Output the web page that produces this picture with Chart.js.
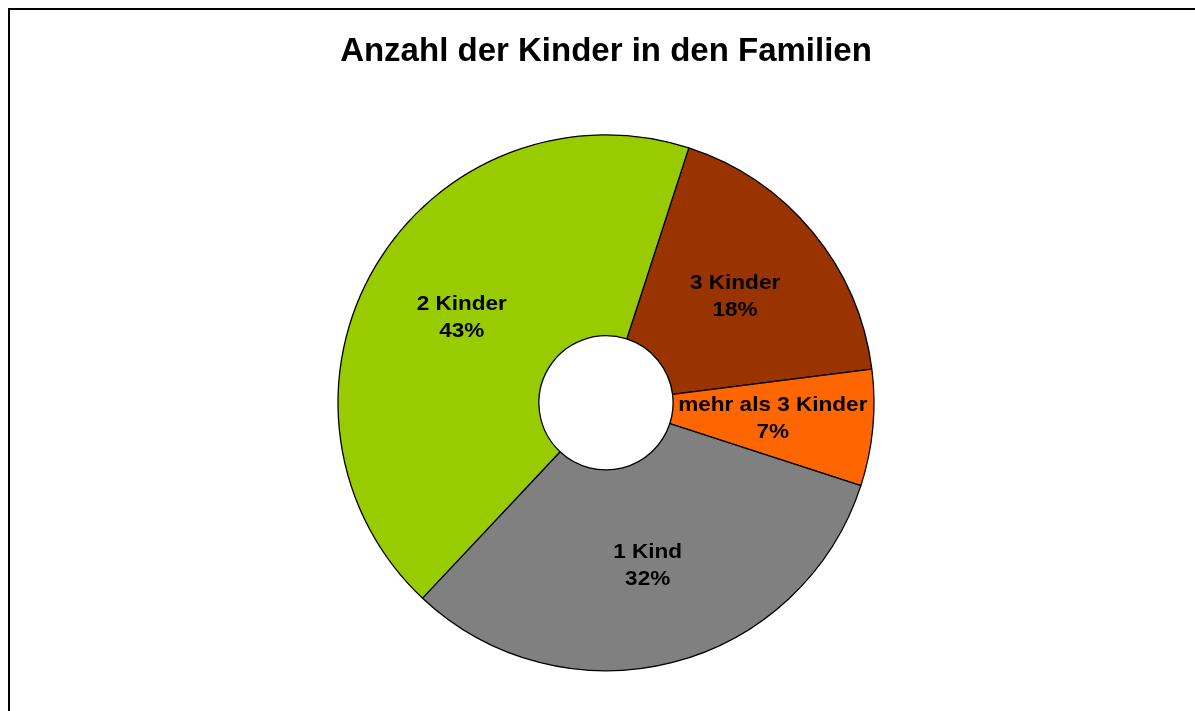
<!DOCTYPE html>
<html lang="de">
<head>
    <meta charset="UTF-8">
    <title>Anzahl der Kinder in den Familien</title>
    <style>
        body {
            margin: 0;
            padding: 0;
            background-color: #ffffff;
            font-family: "Liberation Sans", Arial, sans-serif;
            overflow: hidden;
        }

        .frame {
            position: absolute;
            left: 8px;
            top: 8px;
            width: 1300px;
            height: 800px;
            border-left: 2px solid #000000;
            border-top: 2px solid #000000;
        }

        .chart-box {
            position: absolute;
            left: 0;
            top: 0;
            width: 1195px;
            height: 711px;
        }
    </style>
</head>
<body>
    <div class="frame"></div>
    <div class="chart-box">
        <canvas id="kinder-chart"></canvas>
    </div>

    <script src="https://cdn.jsdelivr.net/npm/chart.js"></script>
    <script>
        // Werte aus dem Diagramm (Prozent)
        const categories = ['3 Kinder', 'mehr als 3 Kinder', '1 Kind', '2 Kinder'];
        const shares = [18, 7, 32, 43];
        const sliceColors = ['#993300', '#FF6600', '#808080', '#99CC00'];

        // Beschriftung in der Mitte jedes Segments (etwas breiter, wie im Original)
        const sliceLabels = {
            id: 'sliceLabels',
            afterDatasetsDraw(chart) {
                const ctx = chart.ctx;
                const meta = chart.getDatasetMeta(0);
                const stretch = 1.1;
                ctx.save();
                ctx.font = 'bold 20.5px "Liberation Sans", Arial, sans-serif';
                ctx.fillStyle = '#000000';
                ctx.textAlign = 'center';
                ctx.textBaseline = 'middle';
                meta.data.forEach(function (arc, i) {
                    const p = arc.getCenterPoint();
                    ctx.save();
                    ctx.translate(p.x, p.y);
                    ctx.scale(stretch, 1);
                    ctx.fillText(categories[i], 0, -13);
                    ctx.fillText(shares[i] + '%', 0, 14);
                    ctx.restore();
                });
                ctx.restore();
            }
        };

        new Chart(document.getElementById('kinder-chart').getContext('2d'), {
            type: 'doughnut',
            data: {
                labels: categories,
                datasets: [{
                    data: shares,
                    backgroundColor: sliceColors,
                    borderColor: '#000000',
                    borderWidth: 1.3,
                    hoverOffset: 0
                }]
            },
            options: {
                responsive: true,
                maintainAspectRatio: false,
                animation: false,
                rotation: 18,
                radius: 268,
                cutout: 67,
                layout: {
                    padding: { left: 17, right: 0, top: 0, bottom: 40 }
                },
                plugins: {
                    legend: { display: false },
                    tooltip: { enabled: false },
                    title: {
                        display: true,
                        text: 'Anzahl der Kinder in den Familien',
                        color: '#000000',
                        font: { family: '"Liberation Sans", Arial, sans-serif', size: 33, weight: 'bold', lineHeight: 1.2 },
                        padding: { top: 32, bottom: 63 }
                    }
                }
            },
            plugins: [sliceLabels]
        });
    </script>
</body>
</html>
